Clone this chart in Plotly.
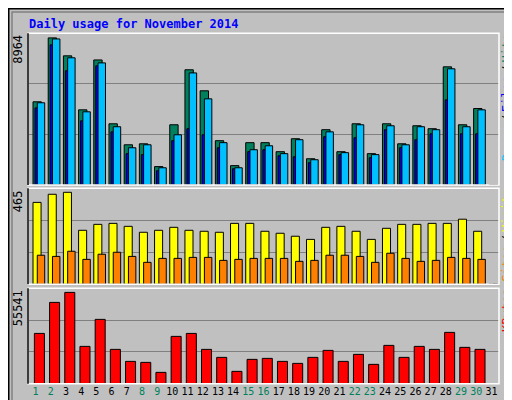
import plotly.graph_objects as go

days = list(range(1, 32))
weekend = {1, 2, 8, 9, 15, 16, 22, 23, 29, 30}

# values (day 31 empty)
hits = [5070, 8964, 7870, 4580, 7620, 3730, 2450, 2510, 1120, 3670, 7020, 5740, 2700, 1180, 2580, 2580, 2030, 2820, 1600, 3370, 2030, 3730, 1910, 3730, 2510, 3610, 3430, 7200, 3670, 4660, 0]
files = [5010, 8900, 7750, 4460, 7440, 3550, 2270, 2450, 1050, 3060, 6830, 5250, 2580, 1050, 2150, 2390, 1910, 2760, 1540, 3240, 1970, 3670, 1850, 3610, 2450, 3550, 3370, 7080, 3550, 4580, 0]
pages = [4700, 8540, 6960, 3910, 7260, 3240, 1910, 1850, 870, 2700, 3430, 3060, 2270, 990, 2030, 2150, 1780, 1720, 1360, 2940, 1850, 2880, 1660, 3370, 2270, 2760, 3120, 5190, 3120, 3120, 0]
visits = [414, 455, 465, 273, 303, 308, 293, 263, 273, 288, 273, 268, 263, 308, 308, 268, 258, 243, 227, 288, 293, 268, 227, 283, 303, 303, 308, 308, 329, 268, 0]
sites = [147, 141, 167, 126, 152, 162, 141, 111, 131, 131, 136, 136, 121, 126, 131, 131, 131, 116, 121, 147, 147, 141, 111, 157, 131, 116, 121, 136, 131, 126, 0]
kbytes = [30590, 49460, 55541, 22700, 39120, 20880, 13580, 12970, 6890, 28780, 30590, 20880, 16010, 7500, 14800, 15400, 13580, 12360, 16010, 20270, 13580, 17840, 11760, 23310, 16010, 22700, 20880, 31220, 22100, 20880, 0]

W, H = 512, 400
BG = "#C0C0C0"
MONO = "DejaVu Sans Mono"


def yd(top, bottom):
    return [1 - bottom / H, 1 - top / H]


panels = [(25.3, 177), (180.3, 276.3), (280.3, 375.7)]
tops = [8964 * 152 / 147.4, 465 * 96 / 92, 55541 * 95.4 / 91.3]

fig = go.Figure()
bar_line = dict(color="black", width=1)
fig.add_trace(go.Bar(x=days, y=hits, width=0.55, offset=-0.17, marker=dict(color="#00805C", line=bar_line), yaxis="y"))
fig.add_trace(go.Bar(x=days, y=pages, width=0.18, offset=-0.04, marker=dict(color="#0000FF", line=bar_line), yaxis="y"))
fig.add_trace(go.Bar(x=days, y=files, width=0.49, offset=0.11, marker=dict(color="#00C0FF", line=bar_line), yaxis="y"))
fig.add_trace(go.Bar(x=days, y=visits, width=0.53, offset=-0.17, marker=dict(color="#FFFF00", line=bar_line), xaxis="x2", yaxis="y2"))
fig.add_trace(go.Bar(x=days, y=sites, width=0.49, offset=0.11, marker=dict(color="#FF8000", line=bar_line), xaxis="x2", yaxis="y2"))
fig.add_trace(go.Bar(x=days, y=kbytes, width=0.66, offset=-0.08, marker=dict(color="#FF0000", line=bar_line), xaxis="x3", yaxis="y3"))

xdom = [20 / W, 491 / W]
ticktext = [f"<span style='color:{'#00805C' if d in weekend else 'black'}'>{d}</span>" for d in days]
for i, (ax, (t, b), top) in enumerate(zip(["", "2", "3"], panels, tops)):
    fig.layout[f"xaxis{ax}"] = dict(
        domain=xdom, range=[0.5, 31.5], anchor=f"y{ax}", showgrid=False, zeroline=False,
        tickvals=days if ax == "3" else [], ticktext=ticktext if ax == "3" else [],
        ticks="", tickangle=0, tickfont=dict(family=MONO, size=10), showline=False,
    )
    fig.layout[f"yaxis{ax}"] = dict(
        domain=yd(t, b), range=[0, top], anchor=f"x{ax}", showticklabels=False,
        tickvals=[top / 3, 2 * top / 3], gridcolor="#808080", gridwidth=1.3, zeroline=False,
    )
    fig.add_shape(type="rect", xref="paper", yref="paper", x0=xdom[0], x1=xdom[1],
                  y0=1 - b / H, y1=1 - t / H, line=dict(color="white", width=1.5))
    fig.add_shape(type="line", xref="paper", yref="paper", x0=xdom[0], x1=xdom[0],
                  y0=1 - b / H, y1=1 - t / H, line=dict(color="black", width=1.5))

for label, (t, b) in zip(["8964", "465", "55541"], panels):
    fig.add_annotation(text=label, xref="paper", yref="paper", x=10 / W, y=1 - t / H,
                       xanchor="center", yanchor="top", textangle=-90, showarrow=False,
                       font=dict(family=MONO, size=12, color="black"))

# right-side legends, one annotation per word, stacked bottom-up
right = [
    [("Pages", "#00C0FF"), ("/", "black"), ("Files", "#0000FF"), ("/", "black"), ("Hits", "#00805C")],
    [("Sites", "#FF8000"), ("/", "black"), ("Visits", "#FFFF00")],
    [("KBytes", "#FF0000")],
]
CH = 7.2
for words, (t, b) in zip(right, panels):
    total = sum(len(w) for w, _ in words) * CH + (len(words) - 1) * 3
    y = t + 3 + total
    for w, c in words:
        fig.add_annotation(text=w, xref="paper", yref="paper", x=499 / W, y=1 - y / H,
                           xanchor="center", yanchor="bottom", textangle=-90, showarrow=False,
                           font=dict(family=MONO, size=12, color=c))
        y -= len(w) * CH + 3

fig.add_annotation(text="<b>Daily usage for November 2014</b>", xref="paper", yref="paper",
                   x=19 / W, y=1 - 7 / H, xanchor="left", yanchor="top", showarrow=False,
                   font=dict(family=MONO, size=12, color="#0000FF"))

# frame
fig.add_shape(type="rect", xref="paper", yref="paper", x0=0, x1=1, y0=0, y1=1,
              line=dict(color="black", width=3))
fig.add_shape(type="rect", xref="paper", yref="paper", x0=4 / W, x1=1 - 4 / W, y0=4 / H, y1=1 - 4 / H,
              line=dict(color="#808080", width=1.5))

fig.update_layout(
    width=W, height=H, margin=dict(l=0, r=0, t=0, b=0),
    paper_bgcolor=BG, plot_bgcolor=BG, showlegend=False, barmode="overlay",
)
fig.write_html("out.html")
